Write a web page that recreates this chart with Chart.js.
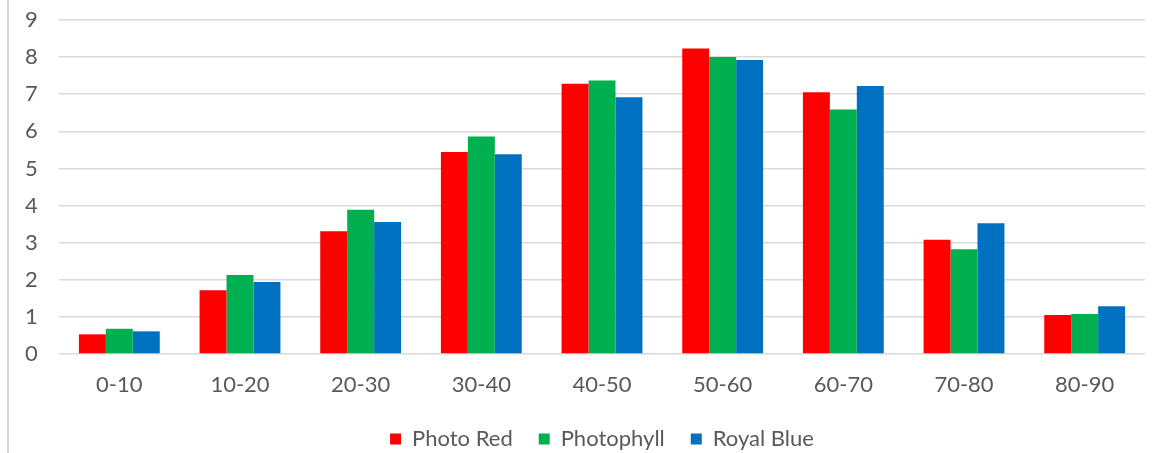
<!DOCTYPE html>
<html>
<head>
<meta charset="utf-8">
<script src="https://cdn.jsdelivr.net/npm/chart.js@4/dist/chart.umd.min.js"></script>
<style>
  html, body { margin: 0; padding: 0; background: #fff; }
  #wrap { position: relative; width: 1153px; height: 453px; }
  #edge { position: absolute; left: 7px; top: 0; width: 2px; height: 453px; background: #d9d9d9; }
  canvas { display: block; }
</style>
</head>
<body>
<div id="wrap">
  <div id="edge"></div>
  <canvas id="canvas" width="1153" height="453"></canvas>
</div>
<script>
  // categorias e valores
  const categorias = ['0-10', '10-20', '20-30', '30-40', '40-50', '50-60', '60-70', '70-80', '80-90'];
  const photoRed = [0.53, 1.72, 3.31, 5.44, 7.28, 8.23, 7.05, 3.08, 1.05];
  const photophyll = [0.68, 2.13, 3.89, 5.86, 7.37, 8.0, 6.59, 2.82, 1.08];
  const royalBlue = [0.61, 1.94, 3.56, 5.38, 6.92, 7.92, 7.22, 3.52, 1.29];
  const ticksY = [0, 1, 2, 3, 4, 5, 6, 7, 8, 9];

  const corTexto = '#595959';
  const fonte = { family: 'Lato, "Open Sans", sans-serif', size: 22 };

  const ctx = document.getElementById('canvas').getContext('2d');
  const chart = new Chart(ctx, {
    type: 'bar',
    data: {
      labels: categorias,
      datasets: [
        { label: 'Photo Red', data: photoRed, backgroundColor: '#ff0000' },
        { label: 'Photophyll', data: photophyll, backgroundColor: '#00b050' },
        { label: 'Royal Blue', data: royalBlue, backgroundColor: '#0070c0' }
      ]
    },
    options: {
      responsive: false,
      animation: false,
      layout: { padding: { top: 20, right: 8, left: 25, bottom: -7 } },
      datasets: {
        bar: { barPercentage: 1, categoryPercentage: 0.67 }
      },
      plugins: {
        tooltip: { enabled: false },
        legend: {
          position: 'bottom',
          fullSize: false,
          labels: {
            color: corTexto,
            font: fonte,
            boxWidth: 11,
            boxHeight: 11,
            padding: 26
          }
        }
      },
      scales: {
        x: {
          grid: { display: false },
          border: { display: false },
          afterFit: scale => { scale.height = 48; },
          ticks: { color: corTexto, font: fonte, padding: 10 }
        },
        y: {
          min: 0,
          max: 9,
          afterFit: scale => { scale.width = 34; },
          afterBuildTicks: scale => { scale.ticks = ticksY.map(v => ({ value: v })); },
          grid: { color: '#d9d9d9', lineWidth: 1.5, drawTicks: false },
          border: { display: false },
          ticks: { color: corTexto, font: fonte, padding: 0, crossAlign: 'far' }
        }
      }
    }
  });
</script>
</body>
</html>
